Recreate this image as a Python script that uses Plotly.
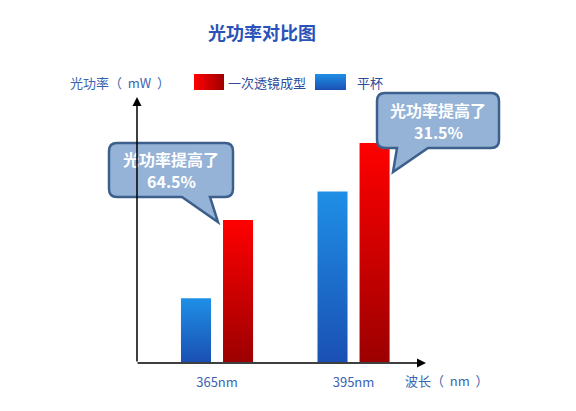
import plotly.graph_objects as go

# data
wavelengths = ["365nm", "395nm"]
pingbei = [2.9, 7.75]        # 平杯
yici = [6.45, 9.95]          # 一次透镜成型
gain_label = "光功率提高了"
gain_pct = ["64.5%", "31.5%"]

W, H = 576, 411
PAD = 8  # page body margin
FONT = "Noto Sans CJK SC"
TXT = "#3a63b0"

fig = go.Figure()

# bars drawn as filled polygons so each one can carry a vertical gradient
half = 0.11
offset = 0.154
series = [
    (pingbei, -offset, "#1a50b3", "#1f8fe6"),
    (yici, offset, "#9c0000", "#ff0000"),
]
for vals, off, bottom, top in series:
    for i, v in enumerate(vals):
        c = i + off
        fig.add_trace(go.Scatter(
            x=[c - half, c + half, c + half, c - half, c - half],
            y=[0, 0, v, v, 0],
            mode="lines", line=dict(width=0), fill="toself",
            fillgradient=dict(type="vertical", colorscale=[[0, bottom], [1, top]]),
            hoverinfo="skip", showlegend=False,
        ))

# legend swatches on a pixel overlay
fig.add_trace(go.Scatter(
    x=[194, 224, 224, 194, 194], y=[74, 74, 90, 90, 74],
    xaxis="x2", yaxis="y2", mode="lines", line=dict(width=0), fill="toself",
    fillgradient=dict(type="horizontal", colorscale=[[0, "#ff0000"], [1, "#a00000"]]),
    hoverinfo="skip", showlegend=False,
))
fig.add_trace(go.Scatter(
    x=[315, 346, 346, 315, 315], y=[74, 74, 90, 90, 74],
    xaxis="x2", yaxis="y2", mode="lines", line=dict(width=0), fill="toself",
    fillgradient=dict(type="vertical", colorscale=[[0, "#1a50b3"], [1, "#1f8fe6"]]),
    hoverinfo="skip", showlegend=False,
))


def callout(x0, y0, x1, y1, tail, r=8):
    # rounded box with a tail hanging from the bottom edge; tail = (xa, xb, tipx, tipy), xb > xa
    xa, xb, tx, ty = tail
    return (f"M {x0+r},{y0} L {x1-r},{y0} Q {x1},{y0} {x1},{y0+r} "
            f"L {x1},{y1-r} Q {x1},{y1} {x1-r},{y1} "
            f"L {xb},{y1} L {tx},{ty} L {xa},{y1} "
            f"L {x0+r},{y1} Q {x0},{y1} {x0},{y1-r} "
            f"L {x0},{y0+r} Q {x0},{y0} {x0+r},{y0} Z")


boxes = [
    (109, 143, 233, 197, (182, 210, 218, 222)),
    (377, 93, 499, 148, (397, 428, 393, 172)),
]
for (x0, y0, x1, y1, tail), pct in zip(boxes, gain_pct):
    fig.add_shape(type="path", path=callout(x0, y0, x1, y1, tail), xref="x2", yref="y2",
                  fillcolor="#95b3d7", line=dict(color="#3c5f8c", width=2.5))
    cx, cy = (x0 + x1) / 2, (y0 + y1) / 2
    fig.add_annotation(x=cx, y=cy - 11, xref="x2", yref="y2", borderpad=0,
                       text=f"<b>{gain_label}</b>", showarrow=False,
                       font=dict(family=FONT, size=16, color="white"))
    fig.add_annotation(x=cx, y=cy + 11, xref="x2", yref="y2", borderpad=0,
                       text=f"<b>{pct}</b>", showarrow=False,
                       font=dict(family=FONT, size=16, color="white"))

# axis arrows
fig.add_annotation(x=137, y=97, ax=137, ay=363, xref="x2", yref="y2", axref="x2", ayref="y2",
                   text="", showarrow=True, arrowhead=2, arrowsize=1.2, arrowwidth=1.5, arrowcolor="black")
fig.add_annotation(x=426, y=363, ax=136, ay=363, xref="x2", yref="y2", axref="x2", ayref="y2",
                   text="", showarrow=True, arrowhead=2, arrowsize=1.2, arrowwidth=1.5, arrowcolor="black")

# texts
fig.add_annotation(x=262, y=32, xref="x2", yref="y2", text="<b>光功率对比图</b>", showarrow=False,
                   font=dict(family=FONT, size=18, color="#2a52b8"))
fig.add_annotation(x=68, y=82, xref="x2", yref="y2", xanchor="left", text="光功率（  mW  ）",
                   showarrow=False, font=dict(family=FONT, size=13, color=TXT))
fig.add_annotation(x=403, y=380, xref="x2", yref="y2", xanchor="left", text="波长（  nm  ）",
                   showarrow=False, font=dict(family=FONT, size=13, color=TXT))
fig.add_annotation(x=226, y=82, xref="x2", yref="y2", xanchor="left", text="一次透镜成型",
                   showarrow=False, font=dict(family=FONT, size=13, color="#2e4c9c"))
fig.add_annotation(x=355, y=82, xref="x2", yref="y2", xanchor="left", text="平杯",
                   showarrow=False, font=dict(family=FONT, size=13, color="#2e4c9c"))

fig.update_layout(
    width=W, height=H,
    margin=dict(l=0, r=0, t=0, b=0),
    paper_bgcolor="white", plot_bgcolor="rgba(0,0,0,0)",
    showlegend=False,
    xaxis=dict(domain=[(137 - PAD) / W, (430 - PAD) / W], range=[-0.586, 1.56],
               tickvals=[0, 1], ticktext=wavelengths, ticks="", showgrid=False,
               zeroline=False, showline=False, ticklabelstandoff=11,
               tickfont=dict(family=FONT, size=13, color=TXT)),
    yaxis=dict(domain=[1 - (362 - PAD) / H, 1 - (98 - PAD) / H], range=[0, 12],
               showticklabels=False, showgrid=False, zeroline=False, showline=False),
    xaxis2=dict(domain=[0, 1], range=[PAD, W + PAD], visible=False, anchor="y2"),
    yaxis2=dict(domain=[0, 1], range=[H + PAD, PAD], visible=False, anchor="x2"),
)

fig.write_html("out.html")
